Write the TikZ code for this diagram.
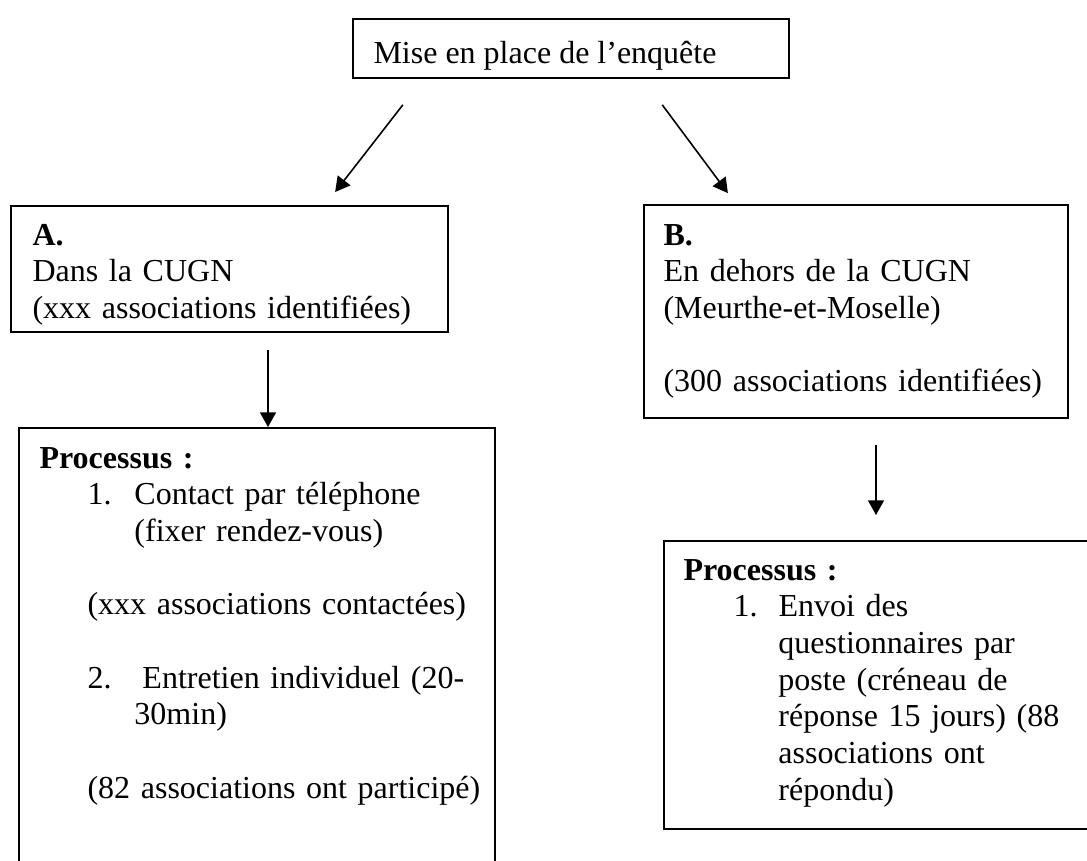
\documentclass[tikz,border=0pt]{standalone}
\usepackage{fontspec}
\setmainfont{Liberation Serif}
\usetikzlibrary{arrows.meta}
\usetikzlibrary{calc}

\begin{document}
\begin{tikzpicture}[x=0.375pt,y=-0.375pt,
    font=\fontsize{12pt}{13.75pt}\selectfont,
    box/.style={draw,line width=0.75pt,anchor=north west,inner sep=0pt},
    txt/.style={anchor=base west,inner sep=0pt,align=left},
    arr/.style={-{Triangle[length=5.5pt,width=6pt]},line width=0.6pt}]
    \useasboundingbox (0,0) rectangle (1087,860);
    \path (352,18) node [box,minimum width=163.5pt,minimum height=22.1pt] (mep) {};
    \path (373,63) node [txt] (mept) {Mise en place de l’enquête};

    \path (10,205) node [box,minimum width=163.9pt,minimum height=47.25pt] (da) {};
    \path (32,245) node [txt,text width=150pt] (dat) {\textbf{A.}\\
	Dans la CUGN\\(xxx associations identifiées)};
    \draw [arr,shorten <=12.3pt,shorten >=6.2pt] ($(mep.south west)+(71,0)$) --
	($(da.north west)+(315,0)$);

    \path (643,204) node [box,minimum width=159pt,minimum height=80pt] (hd) {};
    \path (663,245) node [txt,text width=150pt] (hdt) {\textbf{B.}\\
	En dehors de la CUGN\\(Meurthe-et-Moselle)\\[\baselineskip]
	(300 associations identifiées)};
    \draw [arr,shorten <=12.1pt,shorten >=5.1pt] ($(mep.south west)+(291,0)$) --
	($(hd.north west)+(93,0)$);

    \path (18,427) node [box,minimum width=178.5pt,minimum height=164.25pt] (pa) {};
    \path (39,468) node [txt,text width=170pt] (pat) {\textbf{Processus :}\\
	\hspace*{18pt}\makebox[17.6pt][l]{1.}Contact par téléphone\\
	\hspace*{35.6pt}(fixer rendez-vous)\\[\baselineskip]
	\hspace*{18pt}(xxx associations contactées)\\[\baselineskip]
	\hspace*{18pt}\makebox[20.6pt][l]{2.}Entretien individuel (20-\\
	\hspace*{35.6pt}30min)\\[\baselineskip]
	\hspace*{18pt}(82 associations ont participé)};
    \draw [arr,shorten <=6.4pt] ($(da.south west)+(258,0)$) --
	($(pa.north west)+(250,0)$);

    \path (663,540) node [box,minimum width=160.9pt,minimum height=108pt] (pb) {};
    \path (683,580) node [txt,text width=150pt] (pbt) {\textbf{Processus :}\\
	\hspace*{18.75pt}\makebox[16.9pt][l]{1.}Envoi des\\
	\hspace*{35.6pt}questionnaires par\\
	\hspace*{35.6pt}poste (créneau de\\
	\hspace*{35.6pt}réponse 15 jours) (88\\
	\hspace*{35.6pt}associations ont\\
	\hspace*{35.6pt}répondu)};
    \draw [arr,shorten <=9.75pt,shorten >=9.4pt] ($(hd.south west)+(233,0)$) --
	($(pb.north west)+(213,0)$);
\end{tikzpicture}
\end{document}
